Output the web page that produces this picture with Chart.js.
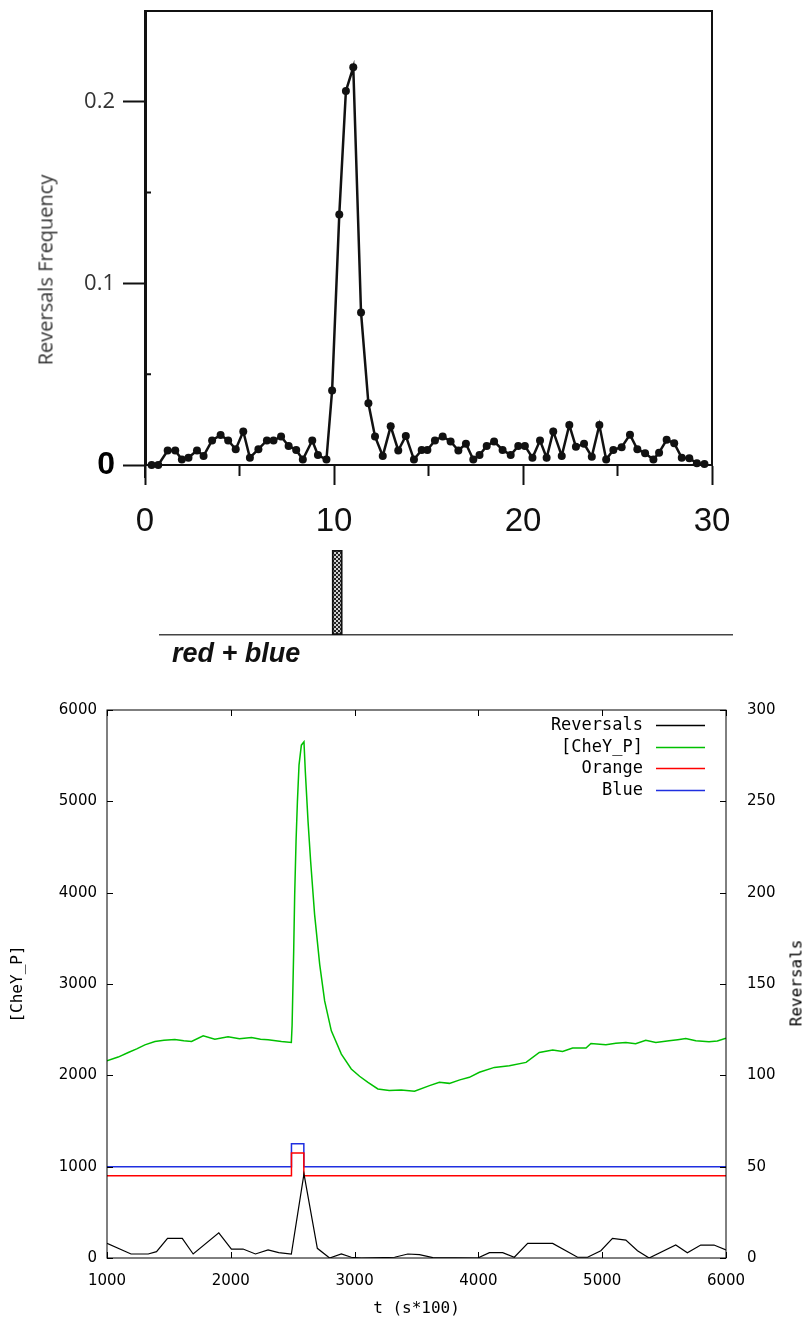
<!DOCTYPE html>
<html>
<head>
<meta charset="utf-8">
<script src="https://cdn.jsdelivr.net/npm/chart.js@4.4.1/dist/chart.umd.min.js"></script>
<style>
    body { margin: 0; background: #fff; }
    #page { position: relative; width: 811px; height: 1323px; overflow: hidden; }
    #page canvas { position: absolute; left: 0; }
    .vlabel { position: absolute; white-space: nowrap; transform: translate(-50%, -50%) rotate(-90deg); }
    #freq-title { left: 45px; top: 270px; font: 20px "Open Sans"; color: #333; }
    #rev-title { left: 796px; top: 983px; font: 16px "DejaVu Sans Mono"; color: #000; }
    #stim-label { position: absolute; left: 172px; top: 638px; font: italic bold 27px "Liberation Sans"; color: #111; }
</style>
</head>
<body>
<div id="page">
    <canvas id="freq-chart" width="811" height="550" style="top:0"></canvas>
    <div id="freq-title" class="vlabel">Reversals Frequency</div>
    <canvas id="stim-chart" width="811" height="110" style="top:540px"></canvas>
    <div id="stim-label">red + blue</div>
    <canvas id="sim-chart" width="811" height="643" style="top:680px"></canvas>
    <div id="rev-title" class="vlabel">Reversals</div>
</div>
<script>
// top panel: measured reversal frequency
var freqTime = [0.35, 0.7, 1.2, 1.6, 1.95, 2.3, 2.75, 3.1, 3.55, 4.0, 4.4, 4.8, 5.2, 5.55, 6.0, 6.45, 6.8, 7.2, 7.6, 8.0,
    8.35, 8.85, 9.15, 9.6, 9.9, 10.28, 10.63, 11.02, 11.43, 11.82, 12.17, 12.58, 13.0, 13.4, 13.8, 14.23, 14.64, 14.94,
    15.34, 15.75, 16.17, 16.58, 16.98, 17.37, 17.7, 18.08, 18.47, 18.92, 19.35, 19.75, 20.1, 20.5, 20.9, 21.25, 21.6,
    22.05, 22.45, 22.8, 23.23, 23.64, 24.04, 24.4, 24.78, 25.22, 25.66, 26.05, 26.46, 26.9, 27.2, 27.6, 28.0, 28.4,
    28.8, 29.2, 29.6];
var freqValue = [0, 0, 0.008, 0.008, 0.003, 0.004, 0.008, 0.005, 0.0135, 0.0165, 0.0135, 0.0087, 0.0185, 0.004, 0.0087,
    0.0135, 0.0135, 0.0157, 0.0105, 0.0083, 0.003, 0.0135, 0.0055, 0.003, 0.041, 0.138, 0.206, 0.219, 0.084, 0.034,
    0.0157, 0.005, 0.0213, 0.008, 0.016, 0.003, 0.0083, 0.0083, 0.0135, 0.0157, 0.013, 0.008, 0.0117, 0.003, 0.0055,
    0.0105, 0.013, 0.0083, 0.0055, 0.0105, 0.0105, 0.004, 0.0135, 0.004, 0.0185, 0.005, 0.022, 0.010, 0.0117, 0.0046,
    0.022, 0.003, 0.0083, 0.0098, 0.0167, 0.0087, 0.0065, 0.003, 0.0068, 0.0139, 0.012, 0.004, 0.0037, 0.001, 0.0005];
var freqXTicks = [0, 10, 20, 30];
var freqXMinor = [5, 15, 25];
var freqYTicks = [0, 0.1, 0.2];
var freqYLabels = ['0', '0.1', '0.2'];
var freqYMinor = [0.05, 0.15];

// stimulus pulse (start, end)
var stimPulse = [9.9, 10.45];

// bottom panel: simulation
var cheyTime = [1000, 1090, 1172, 1240, 1306, 1387, 1460, 1548, 1620, 1683, 1777, 1871, 1978, 2070, 2167, 2240, 2301,
    2409, 2489, 2495, 2508, 2516, 2527, 2538, 2551, 2570, 2591, 2602, 2624, 2645, 2677, 2718, 2758, 2812, 2893, 2973,
    3040, 3108, 3188, 3280, 3376, 3484, 3605, 3685, 3766, 3850, 3927, 4008, 4129, 4250, 4385, 4492, 4600, 4680, 4761,
    4869, 4909, 5030, 5110, 5191, 5270, 5352, 5433, 5540, 5610, 5675, 5756, 5863, 5930, 6000];
var cheyValue = [2160, 2200, 2250, 2290, 2334, 2370, 2385, 2392, 2378, 2370, 2433, 2396, 2422, 2400, 2414, 2395, 2389,
    2370, 2360, 2542, 3360, 3978, 4560, 4996, 5396, 5615, 5651, 5324, 4778, 4342, 3760, 3215, 2815, 2487, 2233, 2069,
    1990, 1923, 1851, 1835, 1840, 1825, 1887, 1923, 1912, 1950, 1978, 2033, 2087, 2105, 2142, 2251, 2277, 2262, 2298,
    2298, 2349, 2334, 2350, 2360, 2345, 2385, 2360, 2378, 2390, 2403, 2378, 2367, 2375, 2407];
var revTime = [1000, 1194, 1333, 1400, 1489, 1608, 1696, 1903, 2005, 2099, 2199, 2301, 2387, 2489, 2591, 2699, 2798,
    2893, 2973, 3054, 3323, 3430, 3524, 3632, 3995, 4089, 4196, 4290, 4398, 4600, 4801, 4882, 4989, 5083, 5191, 5285,
    5379, 5594, 5688, 5796, 5903, 6000];
var revCount = [8, 2.2, 2.2, 3.5, 10.7, 10.7, 2.2, 13.8, 4.9, 4.9, 2.2, 4.4, 2.9, 2.2, 46, 5.3, 0, 2.2, 0.4, 0, 0.4,
    2.2, 1.8, 0.2, 0, 2.9, 2.9, 0.4, 8, 8, 0.4, 0.4, 4, 10.7, 9.8, 4, 0, 7.1, 2.9, 7.1, 7.1, 4.4];
var lightTime = [1000, 2490, 2490, 2590, 2590, 6000];
var orangeValue = [900, 900, 1150, 1150, 900, 900];
var blueValue = [1000, 1000, 1250, 1250, 1000, 1000];
var simXTicks = [1000, 2000, 3000, 4000, 5000, 6000];
var simYTicks = [0, 1000, 2000, 3000, 4000, 5000, 6000];
var simY2Ticks = [0, 50, 100, 150, 200, 250, 300];

function toPoints(xs, ys) {
    return xs.map(function (x, i) { return { x: x, y: ys[i] }; });
}

function setTicks(values) {
    return function (scale) {
        scale.ticks = values.map(function (v) { return { value: v }; });
    };
}

function plainLabel(v) {
    return String(v);
}

var framePlugin = {
    id: 'frame',
    afterDraw: function (chart, args, opts) {
        var a = chart.chartArea, ctx = chart.ctx;
        ctx.save();
        ctx.strokeStyle = opts.color || '#000';
        ctx.lineWidth = opts.width || 1;
        ctx.strokeRect(a.left, a.top, a.right - a.left, a.bottom - a.top);
        ctx.restore();
    }
};

var minorTicksPlugin = {
    id: 'minorTicks',
    afterDraw: function (chart) {
        var a = chart.chartArea, ctx = chart.ctx;
        ctx.save();
        ctx.strokeStyle = '#111';
        ctx.lineWidth = 2;
        ctx.beginPath();
        freqXMinor.forEach(function (v) {
            var px = chart.scales.x.getPixelForValue(v);
            ctx.moveTo(px, a.bottom);
            ctx.lineTo(px, a.bottom + 11);
        });
        freqYMinor.forEach(function (v) {
            var py = chart.scales.y.getPixelForValue(v);
            ctx.moveTo(a.left, py);
            ctx.lineTo(a.left + 6, py);
        });
        // axis line runs a little past the origin, as on the scan
        ctx.moveTo(a.left, a.bottom);
        ctx.lineTo(a.left, a.bottom + 13);
        ctx.stroke();
        ctx.restore();
    }
};

var innerTicksPlugin = {
    id: 'innerTicks',
    afterDraw: function (chart) {
        var a = chart.chartArea, ctx = chart.ctx, len = 6;
        ctx.save();
        ctx.strokeStyle = '#000';
        ctx.lineWidth = 1;
        ctx.beginPath();
        chart.scales.x.ticks.forEach(function (t) {
            var px = Math.round(chart.scales.x.getPixelForValue(t.value)) + 0.5;
            ctx.moveTo(px, a.bottom);
            ctx.lineTo(px, a.bottom - len);
            ctx.moveTo(px, a.top);
            ctx.lineTo(px, a.top + len);
        });
        chart.scales.y.ticks.forEach(function (t) {
            var py = Math.round(chart.scales.y.getPixelForValue(t.value)) + 0.5;
            ctx.moveTo(a.left, py);
            ctx.lineTo(a.left + len, py);
        });
        chart.scales.y2.ticks.forEach(function (t) {
            var py = Math.round(chart.scales.y2.getPixelForValue(t.value)) + 0.5;
            ctx.moveTo(a.right, py);
            ctx.lineTo(a.right - len, py);
        });
        ctx.stroke();
        ctx.restore();
    }
};

var keyPlugin = {
    id: 'key',
    afterDraw: function (chart) {
        var a = chart.chartArea, ctx = chart.ctx;
        ctx.save();
        ctx.font = '17px "DejaVu Sans Mono"';
        ctx.textAlign = 'right';
        ctx.textBaseline = 'middle';
        chart.data.datasets.forEach(function (ds, i) {
            var y = Math.round(a.top + 15 + i * 21.7) + 0.5;
            ctx.fillStyle = '#000';
            ctx.fillText(ds.label, a.right - 83, y);
            ctx.strokeStyle = ds.borderColor;
            ctx.lineWidth = 1.5;
            ctx.beginPath();
            ctx.moveTo(a.right - 70, y);
            ctx.lineTo(a.right - 21, y);
            ctx.stroke();
        });
        ctx.restore();
    }
};

function makePattern() {
    var c = document.createElement('canvas');
    c.width = 4;
    c.height = 4;
    var g = c.getContext('2d');
    g.fillStyle = '#d0d0d0';
    g.fillRect(0, 0, 4, 4);
    g.fillStyle = '#222';
    g.fillRect(0, 0, 2, 2);
    g.fillRect(2, 2, 2, 2);
    return g.createPattern(c, 'repeat');
}

function initFreqChart() {
    var ctx = document.getElementById('freq-chart');
    new Chart(ctx, {
        type: 'line',
        data: {
            datasets: [{
                label: 'Reversals Frequency',
                data: toPoints(freqTime, freqValue),
                borderColor: '#111',
                backgroundColor: '#111',
                borderWidth: 2.5,
                pointRadius: 4,
                pointBorderWidth: 0,
                tension: 0,
                clip: 10
            }]
        },
        options: {
            responsive: false,
            animation: false,
            events: [],
            layout: { padding: { top: 11, right: 99, left: 0, bottom: 0 } },
            plugins: { legend: { display: false }, tooltip: { enabled: false }, frame: { color: '#111', width: 2 } },
            scales: {
                x: {
                    type: 'linear', min: 0, max: 30,
                    afterFit: function (s) { s.height = 85; },
                    afterBuildTicks: setTicks(freqXTicks),
                    ticks: {
                        padding: 17, maxRotation: 0, autoSkip: false, color: '#111',
                        font: { family: 'Liberation Sans', size: 33 }
                    },
                    grid: { drawOnChartArea: false, drawTicks: true, tickLength: 20, tickWidth: 2, tickColor: '#111' },
                    border: { display: true, color: '#111', width: 2 }
                },
                y: {
                    min: 0, max: 0.25,
                    afterFit: function (s) { s.width = 145; },
                    afterBuildTicks: setTicks(freqYTicks),
                    ticks: {
                        padding: 8, autoSkip: false,
                        callback: function (v, i) { return freqYLabels[i]; },
                        color: function (c) { return c.index === 0 ? '#000' : '#333'; },
                        font: function (c) {
                            return c.index === 0
                                ? { family: 'Liberation Sans', size: 32, weight: 'bold', lineHeight: 0.1 }
                                : { family: 'Open Sans', size: 22, lineHeight: 0.1 };
                        }
                    },
                    grid: { drawOnChartArea: false, drawTicks: true, tickLength: 22, tickWidth: 2, tickColor: '#111' },
                    border: { display: true, color: '#111', width: 3 }
                }
            }
        },
        plugins: [framePlugin, minorTicksPlugin]
    });
}

function initStimChart() {
    var ctx = document.getElementById('stim-chart');
    new Chart(ctx, {
        type: 'bar',
        data: {
            labels: ['red + blue'],
            datasets: [{
                data: [stimPulse],
                backgroundColor: makePattern(),
                borderColor: '#111',
                borderWidth: 2,
                borderSkipped: false,
                barPercentage: 1,
                categoryPercentage: 1
            }]
        },
        options: {
            indexAxis: 'y',
            responsive: false,
            animation: false,
            events: [],
            layout: { padding: { top: 10, left: 160, right: 79, bottom: 0 } },
            plugins: { legend: { display: false }, tooltip: { enabled: false } },
            scales: {
                x: {
                    type: 'linear', min: 0.8, max: 31.06,
                    afterFit: function (s) { s.height = 15; },
                    ticks: { display: false },
                    grid: { display: false },
                    border: { display: true, color: '#444', width: 1.5 }
                },
                y: { display: false }
            }
        }
    });
}

function initSimChart() {
    var ctx = document.getElementById('sim-chart');
    var tickFont = { family: 'DejaVu Sans', size: 15 };
    var titleFont = { family: 'DejaVu Sans Mono', size: 16 };
    new Chart(ctx, {
        type: 'line',
        data: {
            datasets: [
                { label: 'Reversals', data: toPoints(revTime, revCount), yAxisID: 'y2', borderColor: '#000', borderWidth: 1.2 },
                { label: '[CheY_P]', data: toPoints(cheyTime, cheyValue), yAxisID: 'y', borderColor: '#00c000', borderWidth: 1.5 },
                { label: 'Orange', data: toPoints(lightTime, orangeValue), yAxisID: 'y', borderColor: '#ff0000', borderWidth: 1.5 },
                { label: 'Blue', data: toPoints(lightTime, blueValue), yAxisID: 'y', borderColor: '#1f2fe0', borderWidth: 1.5 }
            ]
        },
        options: {
            responsive: false,
            animation: false,
            events: [],
            elements: { point: { radius: 0 }, line: { tension: 0 } },
            layout: { padding: { top: 28, left: 0, right: 0, bottom: 0 } },
            plugins: { legend: { display: false }, tooltip: { enabled: false }, frame: { color: '#000', width: 1 } },
            scales: {
                x: {
                    type: 'linear', min: 1000, max: 6000,
                    afterFit: function (s) { s.height = 65; },
                    afterBuildTicks: setTicks(simXTicks),
                    ticks: { padding: 14, maxRotation: 0, autoSkip: false, color: '#000', font: tickFont, callback: plainLabel },
                    grid: { drawOnChartArea: false, drawTicks: false },
                    border: { display: false },
                    title: { display: true, text: 't (s*100)', color: '#000', font: titleFont, padding: { top: 0, bottom: 5 } }
                },
                y: {
                    position: 'left', min: 0, max: 6000,
                    afterFit: function (s) { s.width = 107; },
                    afterBuildTicks: setTicks(simYTicks),
                    ticks: { padding: 10, autoSkip: false, color: '#000', font: tickFont, callback: plainLabel },
                    grid: { drawOnChartArea: false, drawTicks: false },
                    border: { display: false },
                    title: { display: true, text: '[CheY_P]', color: '#000', font: titleFont, padding: { top: 8, bottom: 0 } }
                },
                y2: {
                    position: 'right', min: 0, max: 300,
                    afterFit: function (s) { s.width = 85; },
                    afterBuildTicks: setTicks(simY2Ticks),
                    ticks: { padding: 21, autoSkip: false, color: '#000', font: tickFont, callback: plainLabel },
                    grid: { drawOnChartArea: false, drawTicks: false },
                    border: { display: false }
                }
            }
        },
        plugins: [framePlugin, innerTicksPlugin, keyPlugin]
    });
}

document.addEventListener('DOMContentLoaded', function () {
    initFreqChart();
    initStimChart();
    initSimChart();
});
</script>
</body>
</html>
